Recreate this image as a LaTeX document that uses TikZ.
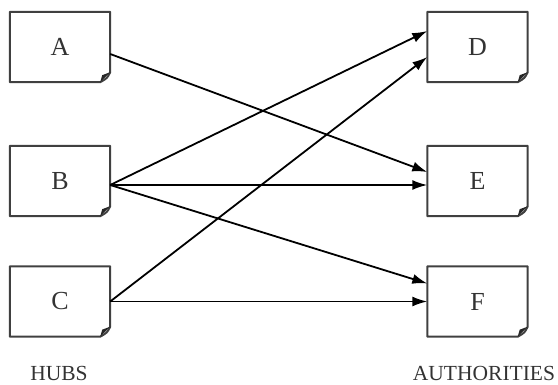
\documentclass[tikz,border=0pt]{standalone}
\usepackage{fontspec}
\setmainfont{Liberation Serif}
\usetikzlibrary{arrows.meta,calc}
\begin{document}
\begin{tikzpicture}[x=1pt,y=-1pt,
  doc/.style={minimum width=100pt,minimum height=70pt,inner sep=0pt,draw=none,
    text=black!80,font=\fontsize{26}{30}\selectfont},
  lbl/.style={text=black!80,font=\fontsize{21.5}{24}\selectfont,inner sep=0pt},
  edge/.style={line width=1.8pt,-{Latex[length=15pt,width=10pt]},black}]
\useasboundingbox (0,0) rectangle (558,385);
\node[doc] (A) at (60,47) {A};
\node[doc] (B) at (60,181) {B};
\node[doc] (C) at (60,301.5) {C};
\node[doc] (D) at (477.5,47) {D};
\node[doc] (E) at (477.5,181) {E};
\node[doc] (F) at (477.5,301.5) {F};
\foreach \n in {A,B,C,D,E,F}{
  \draw[line width=2pt,black!75,line join=round]
    (\n.north west) -- (\n.north east) -- ($(\n.south east)+(0,-10)$)
    .. controls ($(\n.south east)+(-3,-4)$) .. ($(\n.south east)+(-10,0)$)
    -- (\n.south west) -- cycle;
  \fill[black!85] ($(\n.south east)+(0,-10)$) -- ($(\n.south east)+(-10,0)$)
    -- ($(\n.south east)+(-8,-7)$) -- cycle;
}
\node[lbl] (hubs) at (59,373) {HUBS};
\node[lbl] (auth) at (484,373) {AUTHORITIES};
\coordinate (a1) at ($(A.east)+(0,7)$);
\coordinate (b1) at ($(B.east)+(0,4)$);
\coordinate (c1) at ($(C.east)+(0,0)$);
\coordinate (d1) at ($(D.west)+(0,-16)$);
\coordinate (d2) at ($(D.west)+(0,10)$);
\coordinate (e1) at ($(E.west)+(0,-9)$);
\coordinate (e2) at ($(E.west)+(0,4)$);
\coordinate (f1) at ($(F.west)+(0,-18)$);
\coordinate (f2) at ($(F.west)+(0,0)$);
\draw[edge] (a1) -- (e1);
\draw[edge] (b1) -- (d1);
\draw[edge] (b1) -- (e2);
\draw[edge] (b1) -- (f1);
\draw[edge] (c1) -- (d2);
\draw[edge] (c1) -- (f2);
\end{tikzpicture}
\end{document}
